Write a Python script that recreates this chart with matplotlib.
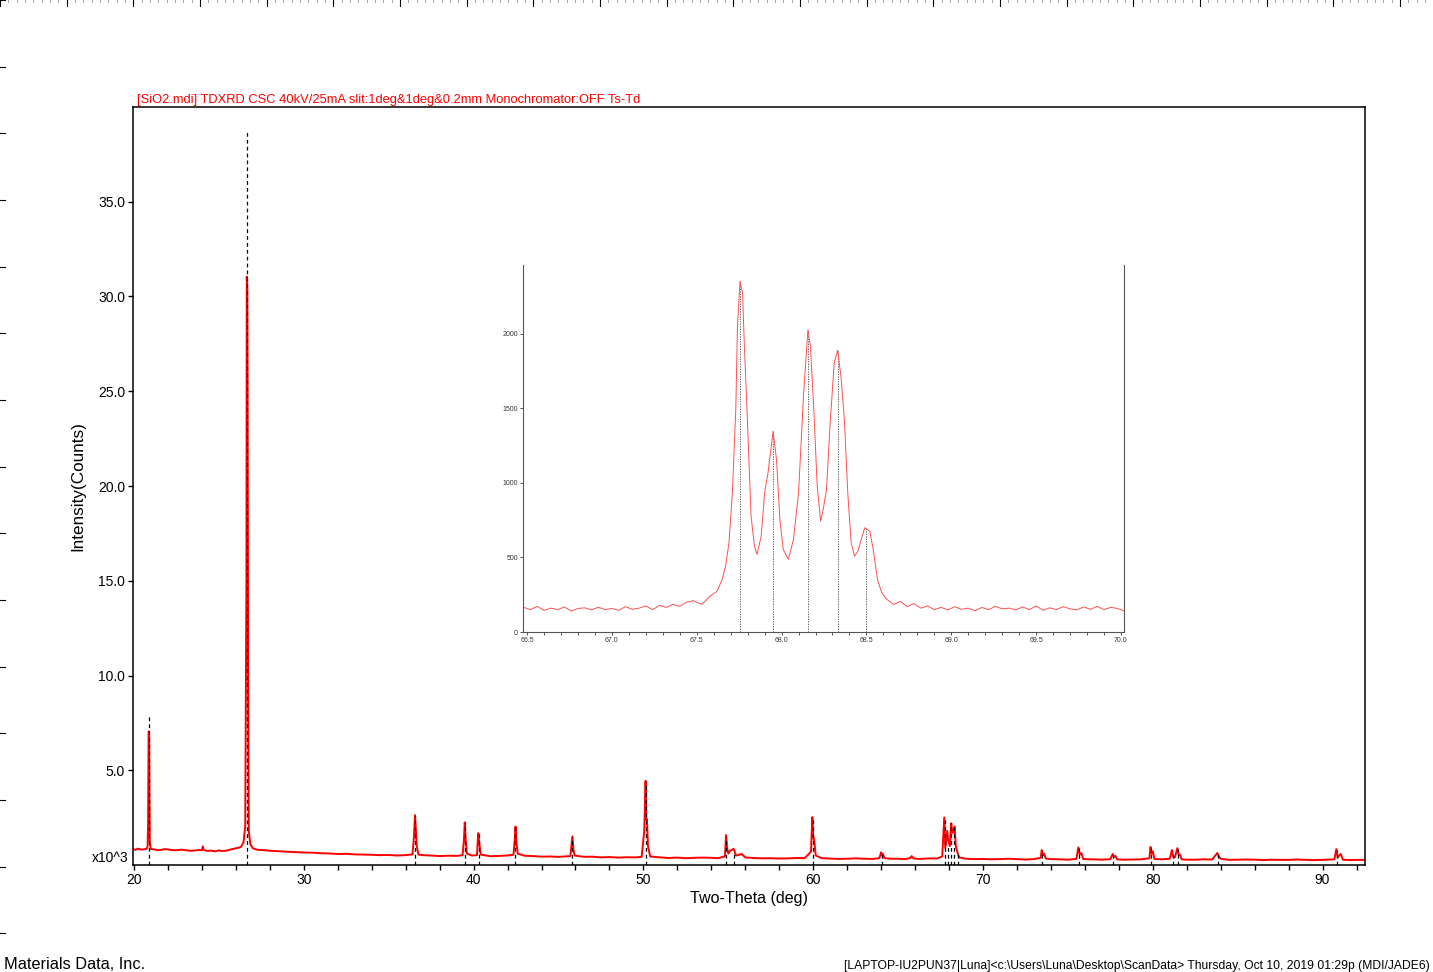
import numpy as np
import matplotlib.pyplot as plt
from matplotlib.lines import Line2D

plt.rcParams['font.family'] = ['Liberation Sans', 'DejaVu Sans']

# main scan (two-theta in deg, counts in x10^3)
main_tt = [19.94, 20.1, 20.2, 20.3, 20.45, 20.6, 20.75, 20.80, 20.83, 20.86, 20.89, 20.90,
           20.93, 20.98, 21.2, 21.4, 21.6, 21.8, 22.0, 22.2, 22.5, 22.8, 23.0, 23.3,
           23.5, 23.8, 24.0, 24.05, 24.1, 24.3, 24.5, 24.8, 25.0, 25.2, 25.4, 25.7,
           26.0, 26.3, 26.45, 26.55, 26.62, 26.64, 26.67, 26.69, 26.72, 26.76, 26.85,
           27.0, 27.3, 27.7, 28.0, 28.5, 29.0, 29.5, 30.0, 30.5, 31.0, 31.5, 32.0,
           32.5, 33.0, 33.5, 34.0, 34.5, 35.0, 35.5, 36.0, 36.4, 36.48, 36.55, 36.6,
           36.65, 36.75, 37.0, 37.5, 38.0, 38.5, 39.0, 39.35, 39.43, 39.48, 39.52,
           39.6, 39.9, 40.2, 40.27, 40.33, 40.42, 41.0, 41.5, 42.0, 42.35, 42.42,
           42.47, 42.52, 42.6, 43.0, 43.5, 44.0, 44.5, 45.0, 45.7, 45.77, 45.82,
           45.88, 45.95, 46.5, 47.0, 47.5, 48.0, 48.5, 49.0, 49.5, 49.9, 50.05,
           50.13, 50.17, 50.21, 50.27, 50.4, 51.0, 51.5, 52.0, 52.5, 53.0, 53.5,
           54.0, 54.4, 54.8, 54.87, 54.93, 55.0, 55.1, 55.32, 55.45, 55.8, 56.0,
           56.5, 57.0, 57.5, 58.0, 58.5, 59.0, 59.5, 59.87, 59.95, 60.0, 60.06,
           60.15, 60.5, 61.0, 61.5, 62.0, 62.5, 63.0, 63.5, 63.9, 64.0, 64.05, 64.1,
           64.2, 64.6, 65.0, 65.4, 65.7, 65.8, 65.9, 66.2, 66.5, 66.9, 67.3, 67.6,
           67.72, 67.78, 67.82, 67.9, 67.95, 68.05, 68.13, 68.2, 68.28, 68.33, 68.4,
           68.5, 68.6, 69.0, 69.5, 70.0, 70.5, 71.0, 71.5, 72.0, 72.5, 73.0, 73.4,
           73.46, 73.52, 73.6, 73.7, 74.0, 74.5, 75.0, 75.5, 75.62, 75.7, 75.8,
           75.9, 76.2, 76.5, 77.0, 77.5, 77.64, 77.72, 77.8, 77.9, 78.3, 78.8, 79.3,
           79.8, 79.87, 79.93, 80.0, 80.1, 80.5, 81.0, 81.13, 81.2, 81.3, 81.45,
           81.52, 81.6, 81.7, 82.0, 82.5, 83.0, 83.5, 83.8, 83.9, 84.0, 84.5, 85.0,
           85.5, 86.0, 86.5, 87.0, 87.5, 88.0, 88.5, 89.0, 89.5, 90.0, 90.7, 90.81,
           90.9, 91.07, 91.2, 91.6, 92.0, 92.5]
main_counts = [0.84, 0.80, 0.86, 0.85, 0.81, 0.83, 0.86, 1.0, 2.26, 7.05, 7.0, 5.4,
               1.2, 0.85, 0.82, 0.78, 0.80, 0.84, 0.82, 0.79, 0.78, 0.81, 0.79, 0.75,
               0.76, 0.79, 0.78, 0.98, 0.80, 0.74, 0.76, 0.72, 0.77, 0.74, 0.75, 0.82,
               0.88, 0.95, 1.2, 2.05, 15.0, 31.05, 30.5, 25.4, 10.0, 1.8, 1.1,
               0.88, 0.80, 0.78, 0.75, 0.73, 0.70, 0.68, 0.66, 0.65, 0.62, 0.61, 0.58,
               0.59, 0.56, 0.55, 0.54, 0.52, 0.53, 0.50, 0.52, 0.56, 1.4, 2.63, 1.8,
               1.0, 0.55, 0.52, 0.50, 0.47, 0.49, 0.48, 0.52, 1.3, 2.25, 1.5,
               0.6, 0.50, 0.52, 1.68, 1.2, 0.55, 0.46, 0.48, 0.50, 0.55, 1.3,
               2.03, 1.2, 0.6, 0.49, 0.47, 0.44, 0.45, 0.43, 0.47, 1.1, 1.51,
               0.8, 0.5, 0.43, 0.44, 0.40, 0.42, 0.39, 0.41, 0.40, 0.43, 1.8,
               4.44, 2.4, 2.42, 1.0, 0.45, 0.40, 0.37, 0.39, 0.36, 0.38, 0.39,
               0.38, 0.36, 0.45, 1.58, 0.9, 0.6, 0.75, 0.85, 0.5, 0.58, 0.40,
               0.37, 0.35, 0.36, 0.34, 0.35, 0.37, 0.36, 0.7, 2.53, 1.5, 1.3,
               0.5, 0.36, 0.34, 0.32, 0.33, 0.35, 0.33, 0.32, 0.36, 0.67, 0.5, 0.6,
               0.36, 0.33, 0.33, 0.31, 0.36, 0.47, 0.35, 0.32, 0.33, 0.35, 0.34, 0.45,
               2.51, 0.9, 1.2, 1.8, 1.3, 1.0, 2.2, 1.7, 1.8, 2.03, 1.0,
               0.65, 0.4, 0.33, 0.31, 0.32, 0.30, 0.31, 0.33, 0.31, 0.29, 0.31, 0.38,
               0.79, 0.5, 0.6, 0.34, 0.31, 0.30, 0.28, 0.32, 0.93, 0.55, 0.62,
               0.32, 0.30, 0.30, 0.28, 0.31, 0.58, 0.42, 0.48, 0.30, 0.28, 0.29, 0.30,
               0.35, 0.95, 0.6, 0.72, 0.32, 0.30, 0.33, 0.79, 0.45, 0.40, 0.89,
               0.55, 0.55, 0.30, 0.28, 0.28, 0.30, 0.29, 0.63, 0.45, 0.33, 0.27, 0.28,
               0.29, 0.28, 0.26, 0.28, 0.27, 0.27, 0.29, 0.27, 0.26, 0.27, 0.30, 0.84,
               0.4, 0.58, 0.28, 0.26, 0.27, 0.27]

# reference peak markers (dashed lines)
ref_tt = [20.86, 26.64, 36.54, 39.47, 40.29, 42.45, 45.79, 50.14, 54.87, 55.32,
          59.96, 64.03, 67.74, 67.95, 68.14, 68.31, 68.50, 73.47, 75.66, 77.67,
          79.88, 81.17, 81.49, 83.84, 90.83]
ref_counts = [7.8, 38.7, 2.6, 2.2, 1.7, 2.0, 1.5, 4.4, 1.5, 0.7,
              2.5, 0.6, 2.5, 1.0, 2.2, 2.0, 0.6, 0.75, 0.9, 0.55,
              0.9, 0.75, 0.85, 0.6, 0.8]

# zoomed inset 66.5 - 70 deg (counts)
inset_tt = [66.48, 66.52, 66.56, 66.60, 66.64, 66.68, 66.72, 66.76, 66.80, 66.84,
            66.88, 66.92, 66.96, 67.00, 67.04, 67.08, 67.12, 67.16, 67.20, 67.24,
            67.28, 67.32, 67.36, 67.40, 67.44, 67.48, 67.53, 67.58, 67.62, 67.65,
            67.67, 67.69, 67.71, 67.73, 67.74, 67.755, 67.77, 67.78, 67.80, 67.82,
            67.84, 67.855, 67.88, 67.90, 67.92, 67.95, 67.97, 67.99, 68.01, 68.04,
            68.07, 68.10, 68.13, 68.155, 68.17, 68.19, 68.21, 68.23, 68.245, 68.265,
            68.285, 68.31, 68.33, 68.35, 68.37, 68.39, 68.41, 68.43, 68.45, 68.475,
            68.49, 68.52, 68.54, 68.565, 68.59, 68.62, 68.66, 68.70, 68.74, 68.78,
            68.82, 68.86, 68.90, 68.94, 68.98, 69.02, 69.06, 69.10, 69.14, 69.18,
            69.22, 69.26, 69.30, 69.34, 69.38, 69.42, 69.46, 69.50, 69.54, 69.58,
            69.62, 69.66, 69.70, 69.74, 69.78, 69.82, 69.86, 69.90, 69.94, 69.98,
            70.02]
inset_counts = [165, 150, 172, 145, 160, 150, 168, 140, 158, 162,
                148, 166, 150, 158, 145, 170, 152, 160, 175, 150,
                178, 165, 185, 172, 200, 210, 185, 241, 274, 353,
                442, 598, 933, 1490, 2048, 2350, 2272, 1937, 1379, 776,
                576, 520, 643, 933, 1067, 1345, 1156, 754, 553, 487,
                620, 933, 1602, 2026, 1914, 1490, 977, 743, 821, 955,
                1379, 1803, 1888, 1714, 1424, 933, 598, 509, 542, 643,
                699, 676, 553, 353, 264, 219, 185, 205, 170, 190,
                160, 175, 150, 165, 148, 170, 152, 160, 142, 165,
                150, 172, 155, 160, 148, 168, 150, 175, 146, 162,
                150, 170, 155, 148, 168, 152, 172, 150, 165, 158,
                140]
inset_peak_tt = [67.755, 67.95, 68.155, 68.33, 68.50]
inset_peak_counts = [2350, 1345, 2026, 1888, 699]

W, H = 1433, 972
fig = plt.figure(figsize=(W / 100, H / 100), dpi=100)


def fx(px):
    return px / W


def fy(py):
    return 1 - py / H


# main axes
ax = fig.add_axes([fx(133), fy(865), fx(1365) - fx(133), fy(107) - fy(865)])
for tt, c in zip(ref_tt, ref_counts):
    ax.plot([tt, tt], [0, c], color="black", lw=0.9, ls=(0, (3, 2.5)), zorder=3)
ax.plot(main_tt, main_counts, color="red", lw=1.4, zorder=2)
ax.set_xlim(19.94, 92.5)
ax.set_ylim(0, 40)
ax.set_xticks(np.arange(20, 91, 10))
ax.set_xticks(np.arange(22, 93, 2), minor=True)
ax.set_yticks(np.arange(5, 36, 5))
ax.set_yticklabels([f"{v:.1f}" for v in np.arange(5, 36, 5)])
ax.tick_params(which="both", direction="out", length=3.8, width=1.0, labelsize=10, pad=2)
for s in ax.spines.values():
    s.set_linewidth(1.1)
ax.set_xlabel("Two-Theta (deg)", fontsize=11.6, labelpad=3)
ax.set_ylabel("Intensity(Counts)", fontsize=12.3, labelpad=9)
ax.text(-0.004, 0.0, "x10^3", transform=ax.transAxes, ha="right", va="bottom",
        fontsize=10)
fig.text(fx(137), fy(103), "[SiO2.mdi] TDXRD CSC 40kV/25mA slit:1deg&1deg&0.2mm Monochromator:OFF Ts-Td",
         color="red", fontsize=9.3, ha="left", va="baseline")

# inset
ins = fig.add_axes([fx(523), fy(632), fx(1124) - fx(523), fy(265) - fy(632)])
for tt, c in zip(inset_peak_tt, inset_peak_counts):
    ins.plot([tt, tt], [0, c], color="#444444", lw=0.6, ls=(0, (1.5, 1.5)))
ins.plot(inset_tt, inset_counts, color="#ff5050", lw=0.7)
ins.set_xlim(66.476, 70.018)
ins.set_ylim(0, 2460)
ins.set_xticks(np.arange(66.5, 70.01, 0.5))
ins.set_xticklabels([f"{v:.1f}" for v in np.arange(66.5, 70.01, 0.5)])
ins.set_xticks(np.arange(66.5, 70.01, 0.1), minor=True)
ins.set_yticks([0, 500, 1000, 1500, 2000])
ins.tick_params(which="both", direction="out", length=2.2, width=0.6, labelsize=5,
                pad=1.5, colors="#333333")
ins.spines["top"].set_visible(False)
for k in ("left", "right", "bottom"):
    ins.spines[k].set_color("#555555")
    ins.spines[k].set_linewidth(0.8)

# page ruler marks along the top and left edges
for k in range(22):
    p = k * 66.67
    fig.add_artist(Line2D([fx(p), fx(p)], [fy(0), fy(6)], color="black", lw=0.8))
    for j in range(1, 8):
        q = p + j * 8.33
        fig.add_artist(Line2D([fx(q), fx(q)], [fy(0), fy(2)], color="#777777", lw=0.5))
for k in range(15):
    p = k * 66.67
    fig.add_artist(Line2D([fx(0), fx(5)], [fy(p), fy(p)], color="black", lw=0.8))

fig.text(fx(4), fy(969), "Materials Data, Inc.", fontsize=11.8, ha="left", va="baseline")
fig.text(fx(1430), fy(969),
         "[LAPTOP-IU2PUN37|Luna]<c:\\Users\\Luna\\Desktop\\ScanData> Thursday, Oct 10, 2019 01:29p (MDI/JADE6)",
         fontsize=8.7, ha="right", va="baseline")

fig.savefig("out.png", dpi=100)
